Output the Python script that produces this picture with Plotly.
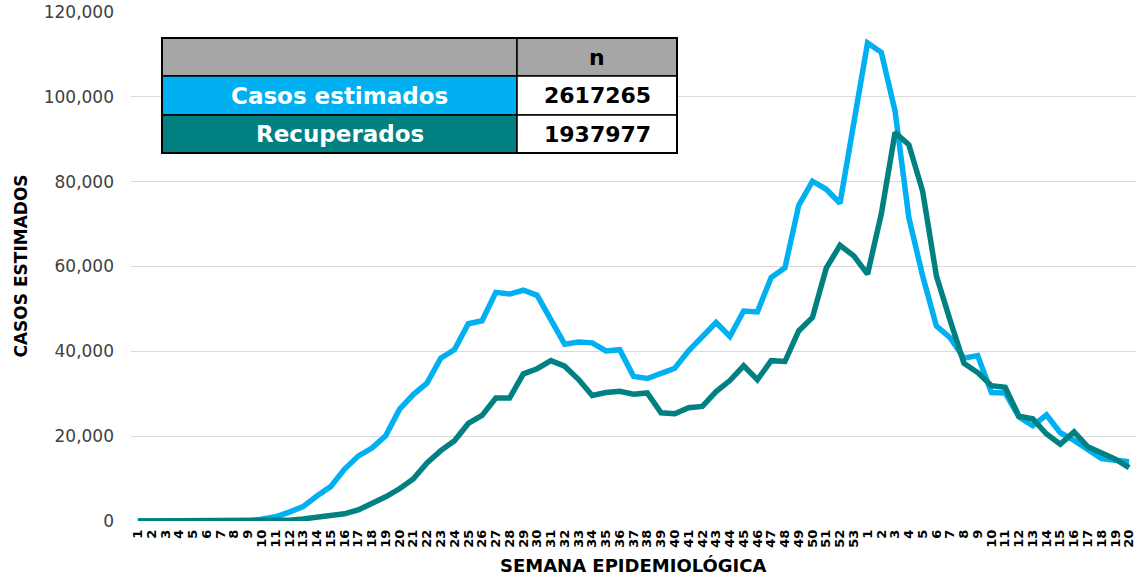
import plotly.graph_objects as go

# ---- data ----
semanas = [str(w) for w in range(1, 54)] + [str(w) for w in range(1, 21)]

casos_estimados = [
    0, 0, 0, 0, 0, 0, 0, 0, 0,
    400, 1000, 2100, 3400, 5900, 8100, 12200, 15300, 17200, 20100,
    26300, 29800, 32500, 38400, 40400, 46500, 47200, 53900, 53500, 54400,
    53200, 47600, 41700, 42200, 42000, 40100, 40400, 34100, 33600, 34800,
    36000, 40100, 43300, 46800, 43500, 49500, 49300, 57400, 59700, 74400,
    80100, 78200, 74900, 93000,
    112700, 110500, 96600, 71500, 57800, 46000, 43200, 38400, 39000, 30300,
    30200, 24500, 22500, 25000, 20800, 19000, 17000, 14700, 14300, 14000,
]

recuperados = [
    0, 0, 0, 0, 0, 0, 0, 0, 0,
    50, 100, 200, 500, 800, 1200, 1700, 2600, 4100, 5700,
    7600, 9900, 13700, 16600, 18900, 23000, 24900, 29000, 29000, 34700,
    35900, 37800, 36500, 33400, 29600, 30300, 30600, 29900, 30200, 25500,
    25300, 26700, 27000, 30500, 33100, 36600, 33300, 37800, 37600, 44800,
    48000, 59600, 65000, 62500,
    58200, 72400, 91600, 88700, 77800, 57800, 47300, 37200, 35000, 31900,
    31500, 24700, 24100, 20500, 18100, 21000, 17500, 16200, 14600, 12600,
]

tabla_etiquetas = ["Casos estimados", "Recuperados"]
tabla_valores = ["2617265", "1937977"]
tabla_encabezado = "n"

BLUE = "#00b0f0"
TEAL = "#008080"
FONT = "DejaVu Sans"

xs = list(range(len(semanas)))

fig = go.Figure()
fig.add_trace(go.Scatter(x=xs, y=casos_estimados, mode="lines",
                         line=dict(color=BLUE, width=5.5), name="Casos estimados"))
fig.add_trace(go.Scatter(x=xs, y=recuperados, mode="lines",
                         line=dict(color=TEAL, width=5.5), name="Recuperados"))

fig.update_layout(
    width=1136, height=577,
    margin=dict(l=131, r=0, t=12, b=56, autoexpand=False),
    plot_bgcolor="white", paper_bgcolor="white",
    showlegend=False,
    font=dict(family=FONT),
)
fig.update_xaxes(
    range=[-0.5, len(semanas) - 0.5],
    tickmode="array", tickvals=xs, ticktext=semanas,
    tickangle=-90, tickfont=dict(family=FONT, size=13, color="black", weight="bold"),
    showgrid=False, zeroline=False, showline=False, ticks="",
    ticklabelstandoff=5, automargin=False, ticklabeloverflow="allow",
)
fig.update_yaxes(
    range=[0, 120000], dtick=20000, tickformat=",",
    tickfont=dict(family=FONT, size=17, color="#404040"),
    showgrid=True, gridcolor="#d9d9d9", gridwidth=1,
    zeroline=False, showline=False, ticks="",
    ticklabelstandoff=16, automargin=False, ticklabeloverflow="allow",
)

# axis titles
fig.add_annotation(text="<b>CASOS ESTIMADOS</b>", xref="paper", yref="paper",
                   x=-0.1104, y=0.5, textangle=-90, showarrow=False,
                   xanchor="center", yanchor="middle",
                   font=dict(family=FONT, size=17, color="black"))
fig.add_annotation(text="<b>SEMANA EPIDEMIOLÓGICA</b>", xref="paper", yref="paper",
                   x=0.5, y=-0.0884, showarrow=False,
                   xanchor="center", yanchor="middle",
                   font=dict(family=FONT, size=18, color="black"))

# summary table (pixel -> paper helpers)
def px_x(p):
    return (p - 131) / 1005

def px_y(p):
    return (521 - p) / 509

col_x = [162, 517, 677]
row_y = [38, 76, 115, 153]
left_fills = ["#a6a6a6", BLUE, TEAL]
right_fills = ["#a6a6a6", "white", "white"]
left_texts = [""] + tabla_etiquetas
right_texts = [tabla_encabezado] + tabla_valores

for r in range(3):
    for c, fill in enumerate([left_fills[r], right_fills[r]]):
        fig.add_shape(type="rect", xref="paper", yref="paper",
                      x0=px_x(col_x[c]), x1=px_x(col_x[c + 1]),
                      y0=px_y(row_y[r + 1]), y1=px_y(row_y[r]),
                      fillcolor=fill, line=dict(color="black", width=1.5),
                      layer="above")
    yc = px_y((row_y[r] + row_y[r + 1]) / 2)
    if left_texts[r]:
        fig.add_annotation(text="<b>" + left_texts[r] + "</b>", xref="paper", yref="paper",
                           x=px_x((col_x[0] + col_x[1]) / 2), y=yc, showarrow=False,
                           xanchor="center", yanchor="middle",
                           font=dict(family=FONT, size=23, color="white"))
    fig.add_annotation(text="<b>" + right_texts[r] + "</b>", xref="paper", yref="paper",
                       x=px_x((col_x[1] + col_x[2]) / 2), y=yc, showarrow=False,
                       xanchor="center", yanchor="middle",
                       font=dict(family=FONT, size=22, color="black"))

fig.add_shape(type="rect", xref="paper", yref="paper",
              x0=px_x(col_x[0]), x1=px_x(col_x[2]),
              y0=px_y(row_y[3]), y1=px_y(row_y[0]),
              fillcolor="rgba(0,0,0,0)", line=dict(color="black", width=2),
              layer="above")

fig.write_html("out.html", config={"displayModeBar": False},
               post_script="document.body.style.margin='0';document.body.style.overflow='hidden';")
